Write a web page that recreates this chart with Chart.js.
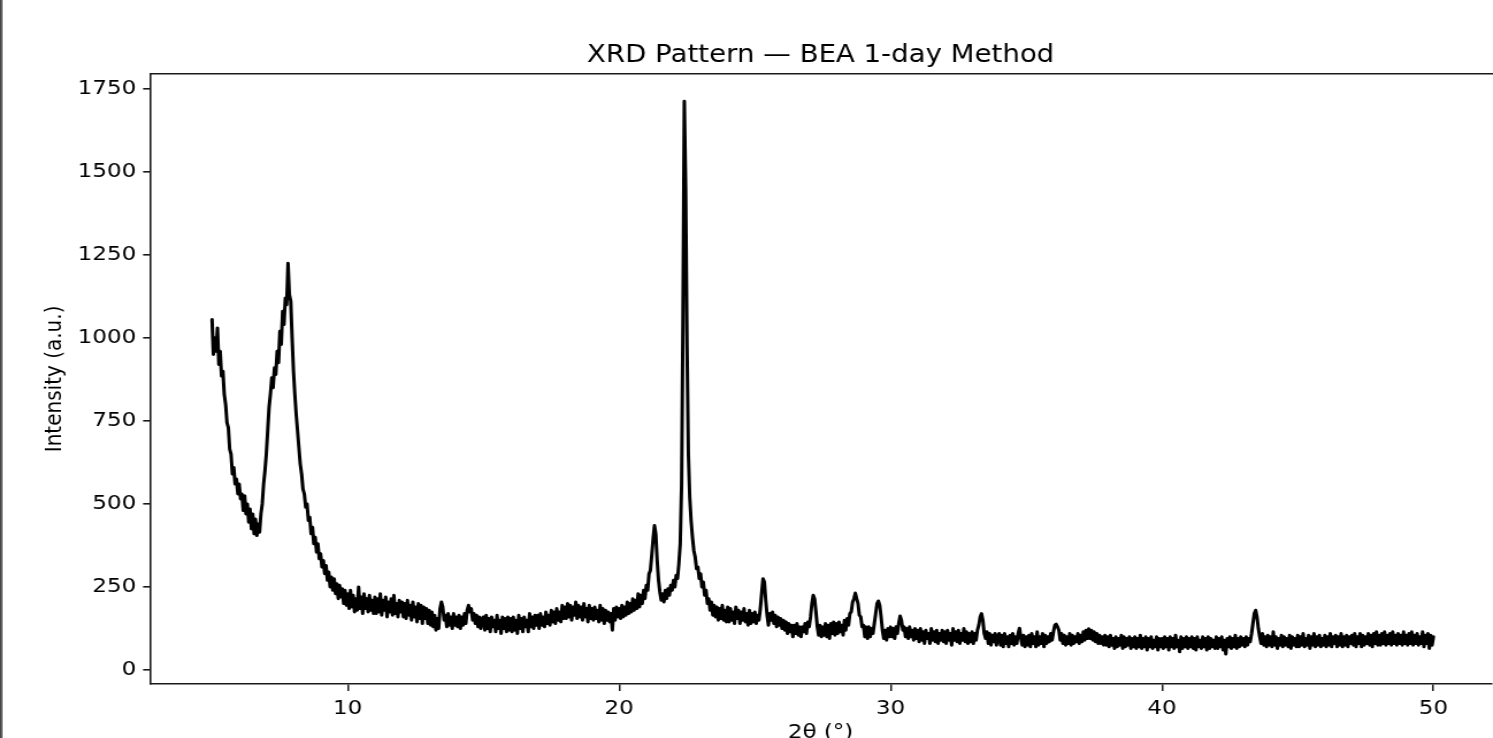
<!DOCTYPE html>
<html>
<head>
<meta charset="utf-8">
<script src="https://cdn.jsdelivr.net/npm/chart.js@4.4.1/dist/chart.umd.min.js"></script>
<style>
  html, body { margin: 0; padding: 0; background: #fff; overflow: hidden; }
  #edge { position: absolute; left: 0; top: 0; width: 3px; height: 738px;
          background: linear-gradient(90deg, #3a3a3a, #6a6a6a 60%, #bdbdbd); z-index: 2; }
  /* the reference is horizontally stretched, so draw narrower and widen */
  #wrap { position: absolute; left: 0; top: 0; width: 1298px; height: 738px;
          transform: scaleX(1.1502); transform-origin: 0 0; }
</style>
</head>
<body>
<div id="edge"></div>
<div id="wrap"><canvas id="xrd"></canvas></div>
<script>
/* ===== DATA ===== */
// scan grid: 5.00° to 50.00°, read every 0.05°
const scanStart = 5.0;
const scanStep = 0.05;

// intensity (a.u.), one row per degree (x.00 … x.95)
const intensity = [
  1055, 950, 1000, 960, 1030, 920, 960, 885, 900, 830, 800, 745, 730, 665, 650, 590, 610, 560, 575, 530,   // 5
  560, 515, 530, 480, 525, 470, 500, 445, 485, 425, 470, 410, 455, 405, 440, 415, 470, 500, 560, 600,      // 6
  650, 720, 790, 830, 880, 850, 910, 890, 960, 925, 1020, 980, 1080, 1040, 1120, 1100, 1225, 1130, 1110, 1000, // 7
  900, 830, 770, 720, 670, 620, 590, 545, 530, 490, 500, 450, 460, 410, 430, 380, 400, 355, 380, 335,      // 8
  350, 310, 330, 290, 315, 270, 295, 250, 280, 240, 275, 230, 260, 215, 255, 220, 245, 200, 240, 195,      // 9
  230, 185, 240, 190, 225, 175, 215, 180, 250, 185, 220, 170, 230, 185, 215, 175, 225, 180, 210, 170,      // 10
  220, 170, 215, 175, 230, 165, 210, 180, 220, 160, 205, 175, 215, 165, 225, 170, 200, 160, 210, 175,      // 11
  205, 160, 200, 155, 210, 165, 195, 150, 205, 160, 190, 145, 200, 155, 195, 140, 190, 155, 185, 140,      // 12
  180, 135, 175, 130, 165, 120, 155, 125, 185, 205, 190, 150, 165, 130, 170, 135, 160, 125, 170, 135,      // 13
  160, 130, 165, 125, 160, 135, 170, 140, 180, 195, 175, 185, 150, 170, 140, 165, 130, 160, 125, 155,      // 14
  160, 120, 165, 125, 155, 115, 160, 130, 150, 115, 165, 125, 150, 110, 160, 125, 155, 115, 160, 120,      // 15
  155, 115, 160, 120, 150, 110, 165, 125, 155, 115, 160, 130, 150, 115, 170, 130, 160, 125, 165, 135,      // 16
  165, 125, 170, 135, 160, 130, 175, 140, 165, 135, 180, 145, 175, 140, 185, 150, 175, 145, 195, 155,      // 17
  190, 155, 200, 160, 195, 150, 190, 165, 205, 155, 195, 160, 190, 150, 200, 160, 185, 145, 195, 155,      // 18
  185, 150, 190, 155, 180, 145, 195, 150, 185, 140, 180, 150, 175, 145, 170, 120, 185, 150, 190, 160,      // 19
  185, 155, 195, 160, 190, 165, 205, 170, 200, 175, 215, 180, 210, 185, 230, 190, 225, 200, 240, 215,      // 20
  255, 240, 290, 300, 345, 395, 435, 410, 330, 270, 235, 210, 230, 205, 240, 215, 245, 225, 255, 240,      // 21
  270, 250, 285, 275, 320, 380, 560, 1050, 1712, 1450, 980, 650, 520, 450, 400, 360, 340, 305, 310, 275,   // 22
  290, 250, 265, 225, 240, 200, 215, 180, 205, 165, 195, 160, 190, 150, 185, 155, 195, 150, 180, 145,      // 23
  190, 145, 185, 150, 175, 140, 190, 155, 180, 140, 175, 150, 185, 145, 170, 135, 180, 140, 170, 145,      // 24
  175, 140, 165, 150, 185, 230, 275, 265, 210, 165, 135, 170, 150, 175, 140, 165, 130, 160, 135, 155,      // 25
  125, 150, 120, 145, 110, 140, 115, 135, 100, 135, 110, 140, 105, 130, 100, 130, 115, 140, 110, 145,      // 26
  130, 160, 200, 225, 215, 175, 130, 105, 135, 100, 130, 105, 140, 100, 135, 95, 140, 110, 145, 105,       // 27
  140, 110, 145, 115, 135, 105, 150, 120, 155, 135, 170, 175, 205, 215, 232, 215, 200, 165, 160, 130,      // 28
  135, 100, 130, 95, 130, 100, 125, 110, 140, 170, 200, 208, 195, 160, 120, 95, 120, 90, 125, 100,         // 29
  130, 100, 125, 95, 130, 110, 140, 163, 150, 120, 130, 100, 125, 95, 130, 100, 120, 90, 125, 95,          // 30
  120, 85, 125, 90, 115, 80, 120, 95, 110, 80, 125, 90, 115, 85, 120, 80, 110, 90, 120, 85,                // 31
  115, 80, 120, 90, 110, 75, 125, 90, 115, 85, 120, 80, 110, 90, 125, 85, 115, 80, 110, 85,                // 32
  115, 80, 110, 90, 120, 135, 160, 170, 150, 110, 95, 115, 80, 110, 75, 105, 85, 110, 75, 100,             // 33
  110, 75, 105, 70, 110, 80, 100, 70, 105, 80, 110, 75, 100, 80, 110, 126, 95, 75, 105, 70,                // 34
  100, 75, 105, 70, 110, 80, 100, 70, 115, 75, 100, 80, 110, 70, 105, 80, 100, 85, 110, 90,                // 35
  115, 135, 138, 130, 120, 90, 110, 80, 105, 75, 100, 80, 110, 75, 105, 80, 100, 85, 110, 80,              // 36
  105, 85, 115, 90, 120, 95, 124, 95, 120, 90, 115, 85, 110, 80, 105, 80, 100, 75, 105, 75,                // 37
  100, 70, 105, 75, 95, 65, 100, 70, 95, 75, 105, 65, 100, 70, 95, 75, 100, 65, 95, 70,                    // 38
  100, 65, 95, 70, 105, 65, 95, 70, 100, 60, 95, 70, 100, 65, 90, 70, 100, 60, 95, 70,                     // 39
  95, 65, 100, 70, 95, 60, 100, 70, 95, 65, 105, 70, 90, 55, 100, 65, 95, 70, 100, 65,                     // 40
  95, 70, 100, 65, 95, 60, 100, 70, 90, 65, 100, 70, 95, 60, 100, 65, 95, 70, 90, 65,                      // 41
  100, 65, 95, 70, 100, 60, 90, 48, 95, 70, 100, 65, 95, 70, 105, 65, 95, 70, 100, 75,                     // 42
  95, 70, 100, 75, 95, 85, 110, 140, 170, 180, 160, 125, 100, 80, 110, 75, 100, 70, 105, 75,               // 43
  100, 70, 115, 75, 100, 65, 95, 75, 105, 70, 100, 75, 95, 70, 105, 65, 100, 75, 95, 70,                   // 44
  105, 70, 100, 75, 110, 70, 95, 75, 105, 65, 100, 75, 110, 70, 100, 75, 105, 70, 95, 75,                  // 45
  105, 70, 100, 75, 110, 70, 100, 80, 105, 70, 100, 75, 110, 70, 100, 75, 105, 70, 100, 80,                // 46
  105, 75, 110, 70, 100, 80, 110, 70, 105, 75, 100, 80, 110, 75, 105, 70, 110, 80, 115, 75,                // 47
  105, 75, 110, 80, 115, 75, 105, 80, 110, 75, 115, 80, 105, 75, 110, 80, 105, 75, 115, 80,                // 48
  105, 75, 110, 80, 115, 75, 105, 80, 110, 75, 100, 80, 115, 70, 105, 80, 110, 65, 105, 75,                // 49
  100                                                                                                      // 50
];

const xTicks = [10, 20, 30, 40, 50];
const yTicks = [0, 250, 500, 750, 1000, 1250, 1500, 1750];

/* ===== CHART ===== */
const INK = '#1a1a1a';
const FONT = "'DejaVu Sans', sans-serif";

const points = intensity.map((v, i) => ({ x: +(scanStart + i * scanStep).toFixed(2), y: v }));

// top spine (left and bottom come from the axis borders, right one is cut off)
const topSpine = {
  id: 'topSpine',
  afterDraw(chart) {
    const { ctx, chartArea: a } = chart;
    ctx.save();
    ctx.strokeStyle = INK;
    ctx.lineWidth = 1.6;
    ctx.beginPath();
    ctx.moveTo(a.left, a.top);
    ctx.lineTo(chart.width, a.top);
    ctx.stroke();
    ctx.restore();
  }
};

new Chart(document.getElementById('xrd'), {
  type: 'line',
  data: {
    datasets: [{
      data: points,
      borderColor: '#000',
      borderWidth: 3,
      borderJoinStyle: 'round',
      borderCapStyle: 'round',
      pointRadius: 0,
      tension: 0,
      fill: false
    }]
  },
  options: {
    responsive: true,
    maintainAspectRatio: false,
    animation: false,
    layout: { padding: { top: 41, right: 0, bottom: 0, left: 0 } },
    plugins: {
      legend: { display: false },
      tooltip: { enabled: false },
      title: {
        display: true,
        fullSize: false,
        text: 'XRD Pattern — BEA 1-day Method',
        color: '#000',
        font: { family: FONT, size: 24, weight: 'normal', lineHeight: 1.2 },
        padding: { top: 0, bottom: 4 }
      }
    },
    scales: {
      x: {
        type: 'linear',
        min: 2.714, max: 52.13,
        afterBuildTicks: ax => { ax.ticks = xTicks.map(value => ({ value })); },
        afterFit: ax => { ax.height = 54; },
        ticks: { color: '#000', padding: 6, font: { family: FONT, size: 20 } },
        grid: { display: true, drawOnChartArea: false, drawTicks: true, tickLength: 7, color: INK, lineWidth: 1.5 },
        border: { display: true, color: INK, width: 1.6 },
        title: {
          display: true, text: '2θ (°)', color: '#000',
          font: { family: FONT, size: 20, lineHeight: 1.2 },
          padding: { top: 0, bottom: -7 }
        }
      },
      y: {
        min: -42, max: 1795,
        afterBuildTicks: ax => { ax.ticks = yTicks.map(value => ({ value })); },
        afterFit: ax => { ax.width = 130.4; },
        ticks: { color: '#000', padding: 6, font: { family: FONT, size: 20 }, callback: v => String(v) },
        grid: { display: true, drawOnChartArea: false, drawTicks: true, tickLength: 6, color: INK, lineWidth: 1.6 },
        border: { display: true, color: INK, width: 1.6 },
        title: {
          display: true, text: 'Intensity (a.u.)', color: '#000',
          font: { family: FONT, size: 20, lineHeight: 1.2 },
          padding: { top: 36, bottom: 0 }
        }
      }
    }
  },
  plugins: [topSpine]
});
</script>
</body>
</html>
